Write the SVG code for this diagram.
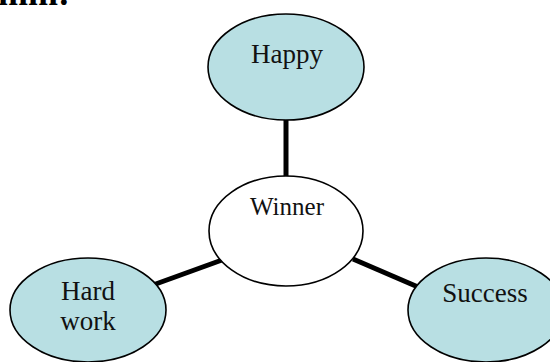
<svg xmlns="http://www.w3.org/2000/svg" width="550" height="362" viewBox="0 0 550 362">
<style>
.n{fill:#b8dfe3;stroke:#000;stroke-width:1.6}
.c{fill:#fff;stroke:#000;stroke-width:1.6}
.t{font-family:"Liberation Serif","Times New Roman",serif;font-size:27px;fill:#111;text-anchor:middle}
.w{font-size:25px}
.e{stroke:#000;stroke-width:5;fill:none}
</style>
<text x="-2" y="5" style="font-family:'Liberation Serif',serif;font-weight:bold;font-size:36px;fill:#000">mm:</text>
<g id="connectors">
<line class="e" x1="286" y1="120" x2="286" y2="177"/>
<line class="e" x1="153" y1="285" x2="222" y2="260"/>
<line class="e" x1="353" y1="259" x2="418" y2="287"/>
</g>
<g id="happy"><ellipse class="n" cx="286" cy="67" rx="78" ry="53"/><text class="t" x="287" y="63">Happy</text></g>
<g id="winner"><ellipse class="c" cx="286" cy="231" rx="77" ry="55"/><text class="t w" x="287" y="215">Winner</text></g>
<g id="hardwork"><ellipse class="n" cx="88" cy="310" rx="78" ry="52"/><text class="t" x="88" y="300">Hard</text><text class="t" x="88" y="330">work</text></g>
<g id="success"><ellipse class="n" cx="486" cy="310" rx="78" ry="52"/><text class="t" x="485" y="302">Success</text></g>
</svg>
